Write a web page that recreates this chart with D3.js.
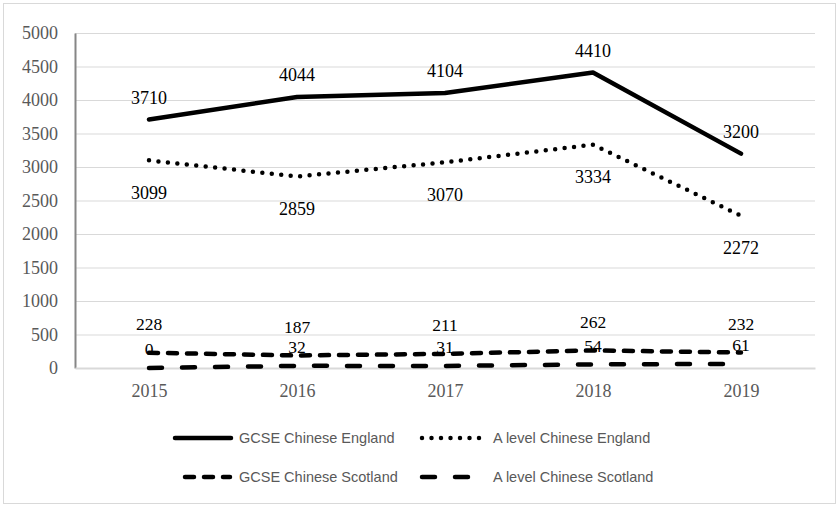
<!DOCTYPE html>
<html>
<head>
<meta charset="utf-8">
<script src="https://cdn.jsdelivr.net/npm/d3@7"></script>
<style>
  body { margin: 0; background: #fff; }
</style>
</head>
<body>
<div id="chart"></div>
<script>
const W = 839, H = 507;
const margin = {top: 33, right: 24, bottom: 139, left: 75};

const years = ["2015", "2016", "2017", "2018", "2019"];
const gcseEngland = [3710, 4044, 4104, 4410, 3200];
const aLevelEngland = [3099, 2859, 3070, 3334, 2272];
const gcseScotland = [228, 187, 211, 262, 232];
const aLevelScotland = [0, 32, 31, 54, 61];
const yTicks = [0, 500, 1000, 1500, 2000, 2500, 3000, 3500, 4000, 4500, 5000];

const serif = "'Liberation Serif', 'Times New Roman', serif";

// line styles (dash arrays with round caps)
const series = [
  {name: "GCSE Chinese England", values: gcseEngland, dash: null, labelDy: -22, size: 18},
  {name: "A level Chinese England", values: aLevelEngland, dash: "0 9.5", labelDy: 32, size: 18},
  {name: "GCSE Chinese Scotland", values: gcseScotland, dash: "9 10", labelDy: -29, size: 17.5},
  {name: "A level Chinese Scotland", values: aLevelScotland, dash: "13 20", labelDy: -19, size: 17.5}
];

const svg = d3.select("#chart").append("svg")
  .attr("width", W).attr("height", H);

svg.append("rect")
  .attr("x", 3.5).attr("y", 3.5)
  .attr("width", W - 7).attr("height", H - 7)
  .attr("fill", "#fff").attr("stroke", "#d9d9d9");

const g = svg.append("g").attr("transform", "translate(" + margin.left + "," + margin.top + ")");
const iw = W - margin.left - margin.right, ih = H - margin.top - margin.bottom;

const x = d3.scalePoint().domain(years).range([0, iw]).padding(0.5);
const y = d3.scaleLinear().domain([0, 5000]).range([ih, 0]);

// gridlines
g.selectAll(".grid").data(yTicks.slice(1)).join("line")
  .attr("x1", 0).attr("x2", iw)
  .attr("y1", d => y(d) + 0.5).attr("y2", d => y(d) + 0.5)
  .attr("stroke", "#d9d9d9").attr("stroke-width", 1);

// y axis
const yAxis = g.append("g")
  .call(d3.axisLeft(y).tickValues(yTicks).tickFormat(d3.format("d")).tickSize(0).tickPadding(17));
yAxis.attr("font-family", serif).attr("font-size", 18);
yAxis.select(".domain").attr("stroke", "#868686").attr("stroke-width", 2);
yAxis.selectAll("text").attr("fill", "#595959");

// x axis
const xAxis = g.append("g").attr("transform", "translate(0," + ih + ")")
  .call(d3.axisBottom(x).tickSize(0).tickPadding(16));
xAxis.attr("font-family", serif).attr("font-size", 18);
xAxis.select(".domain").attr("stroke", "#d9d9d9").attr("stroke-width", 2);
xAxis.selectAll("text").attr("fill", "#595959");

const line = d3.line().x((d, i) => x(years[i])).y(d => y(d));

series.forEach(s => {
  g.append("path").datum(s.values)
    .attr("d", line)
    .attr("fill", "none").attr("stroke", "#000")
    .attr("stroke-width", 4.5)
    .attr("stroke-linecap", "round").attr("stroke-linejoin", "round")
    .attr("stroke-dasharray", s.dash);
  g.selectAll(null).data(s.values).join("text")
    .attr("x", (d, i) => x(years[i]))
    .attr("y", d => y(d) + s.labelDy)
    .attr("dy", "0.35em")
    .attr("text-anchor", "middle")
    .attr("font-family", serif)
    .attr("font-size", s.size).attr("fill", "#000")
    .text(d => d);
});

// legend
const legPos = [[173, 438], [420, 438], [180, 477], [420, 477]];
const legLine = [[2, 58], [2, 64], [5, 50], [2, 64]];
const legText = [66, 73, 59, 73];
series.forEach((s, i) => {
  const [lx, ly] = legPos[i];
  const lg = svg.append("g").attr("transform", "translate(" + lx + "," + ly + ")");
  lg.append("line").attr("x1", legLine[i][0]).attr("x2", legLine[i][1])
    .attr("y1", 0).attr("y2", 0)
    .attr("stroke", "#000").attr("stroke-width", 4.5)
    .attr("stroke-linecap", "round")
    .attr("stroke-dasharray", s.dash);
  lg.append("text").attr("x", legText[i]).attr("y", 0).attr("dy", "0.35em")
    .attr("font-family", "'Liberation Sans', Arial, sans-serif")
    .attr("font-size", 14.5).attr("fill", "#595959")
    .text(s.name);
});
</script>
</body>
</html>
